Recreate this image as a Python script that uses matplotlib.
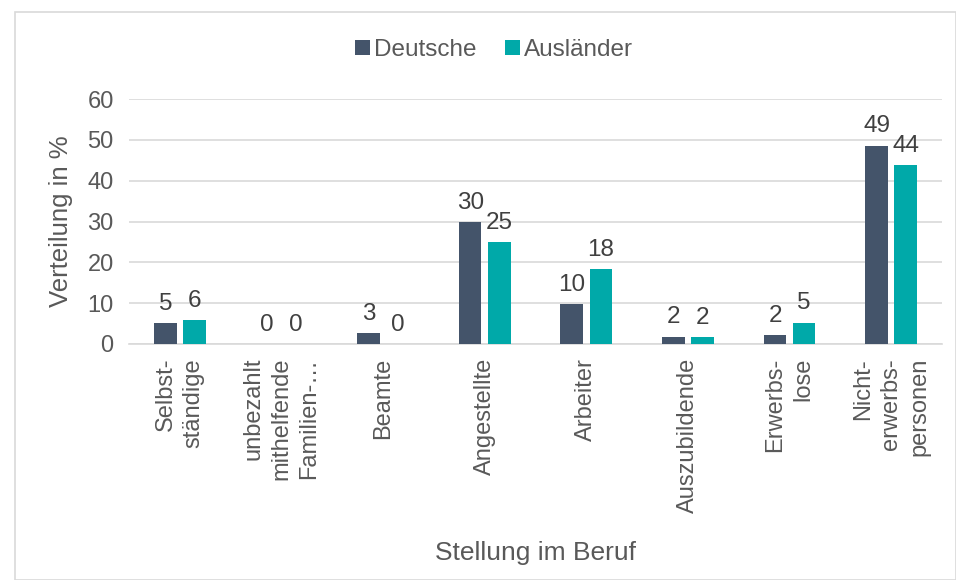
import numpy as np
import matplotlib.pyplot as plt
from matplotlib.patches import Rectangle

categories = ['Selbst-\nständige', 'unbezahlt\nmithelfende\nFamilien-…', 'Beamte',
              'Angestellte', 'Arbeiter', 'Auszubildende', 'Erwerbs-\nlose',
              'Nicht-\nerwerbs-\npersonen']
deutsche = [5.1, 0.0, 2.7, 29.9, 9.8, 1.8, 2.2, 48.6]
auslaender = [5.8, 0.0, 0.0, 25.0, 18.4, 1.7, 5.2, 43.8]
deutsche_labels = ['5', '0', '3', '30', '10', '2', '2', '49']
auslaender_labels = ['6', '0', '0', '25', '18', '2', '5', '44']

plt.rcParams['font.family'] = ['Liberation Sans', 'DejaVu Sans']
txt = '#595959'

fig = plt.figure(figsize=(9.56, 5.8), dpi=100)
fig.patches.append(Rectangle((15/956, 0), 1 - 15/956, 1 - 12/580, transform=fig.transFigure,
                             fill=False, edgecolor='#d9d9d9', linewidth=1.2))
ax = fig.add_axes([129/956, 1 - 344/580, 813/956, 245/580])

x = np.arange(len(categories))
w = 0.222
off = 0.143
b1 = ax.bar(x - off, deutsche, w, color='#44546A', label='Deutsche', zorder=3)
b2 = ax.bar(x + off, auslaender, w, color='#00A9A9', label='Ausländer', zorder=3)

for bars, labels in ((b1, deutsche_labels), (b2, auslaender_labels)):
    for bar, lab in zip(bars, labels):
        ax.annotate(lab, (bar.get_x() + bar.get_width() / 2, bar.get_height()),
                    xytext=(0, 6), textcoords='offset points', ha='center', va='bottom',
                    fontsize=17.5, color='#404040')

ax.set_xlim(-0.5, len(categories) - 0.5)
ax.set_ylim(0, 60)
ax.set_yticks(range(0, 61, 10))
ax.yaxis.grid(True, color='#d9d9d9', linewidth=1.2, zorder=0)
for s in ['top', 'right', 'left']:
    ax.spines[s].set_visible(False)
ax.spines['bottom'].set_color('#d9d9d9')
ax.spines['bottom'].set_linewidth(1.2)
ax.tick_params(axis='both', length=0, labelsize=17, labelcolor=txt)
ax.tick_params(axis='y', pad=11)
ax.set_xticks(x)
ax.set_xticklabels(categories, rotation=90, va='top', ha='center', multialignment='right',
                   linespacing=1.35)
ax.tick_params(axis='x', pad=10)

ax.set_ylabel('Verteilung in %', fontsize=18.5, color=txt, labelpad=10)
ax.set_xlabel('Stellung im Beruf', fontsize=19, color=txt)
ax.xaxis.set_label_coords(0.5, -(541 - 344) / 245)

leg = fig.legend(loc='center', bbox_to_anchor=(494/956, 1 - 50/580), ncol=2, frameon=False,
                 fontsize=17.5, handlelength=0.6, handleheight=0.6, handletextpad=0.15,
                 columnspacing=1.2)
for t in leg.get_texts():
    t.set_color(txt)

fig.savefig('out.png', dpi=100)
